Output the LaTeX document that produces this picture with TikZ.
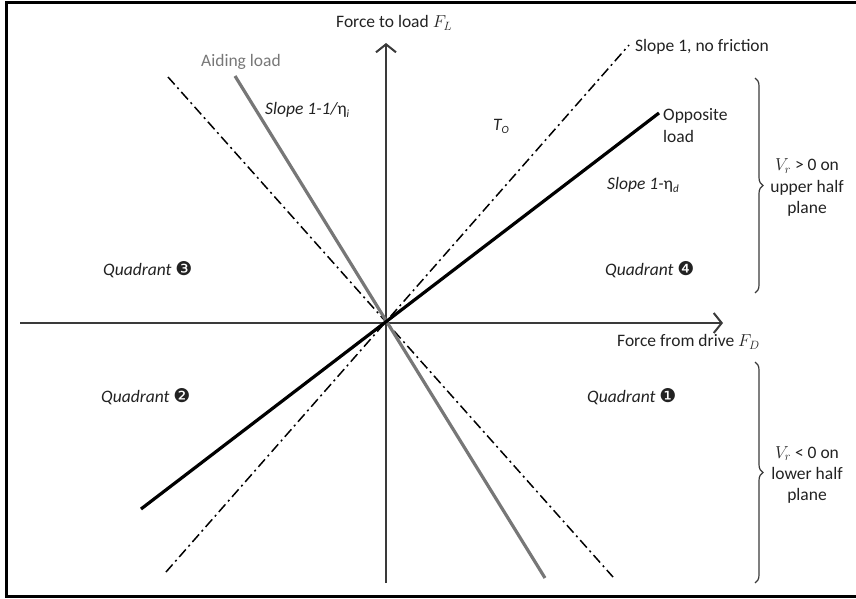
\documentclass[tikz,border=0pt]{standalone}
\usepackage{fontspec}
\setmainfont{Carlito}
\newfontfamily\dingfont{DejaVu Sans}
\usetikzlibrary{arrows.meta,decorations.pathreplacing}
\newcommand\lowsub[1]{\raisebox{-0.35ex}{\fontsize{11}{11}\selectfont #1}}
\newcommand\qnum[1]{{\upshape\dingfont\fontsize{19}{20}\selectfont #1}}
\definecolor{axisgray}{HTML}{3A3A3A}
\definecolor{aidgray}{HTML}{777777}
\definecolor{txt}{HTML}{222222}
\begin{document}
\begin{tikzpicture}[x=1pt,y=-1pt,
  every node/.style={text=txt,font=\fontsize{17.5}{20}\selectfont,inner sep=0pt},
  axisline/.style={draw=axisgray,line width=2pt,-{Straight Barb[length=8pt,width=20pt,line width=2pt]}},
  aidline/.style={draw=aidgray,line width=3.2pt},
  oppline/.style={draw=black,line width=3.2pt},
  dashdotline/.style={draw=black,line width=1.5pt,dash pattern=on 10pt off 4pt on 2pt off 4pt},
  bracepath/.style={draw=axisgray,line width=1.2pt,decorate,decoration={brace,amplitude=8pt}},
  quadlabel/.style={anchor=west,font=\fontsize{17.5}{20}\selectfont\itshape},
  sidelabel/.style={align=center,font=\fontsize{17.5}{21.5}\selectfont}
]
\useasboundingbox (0,0) rectangle (856,599);
% frame
\draw[line width=3pt,black] (870,3) -- (6,3) -- (6,596) -- (870,596);

% key points
\coordinate (O) at (386,323);
\coordinate (xs) at (20,323);
\coordinate (xe) at (723,323);
\coordinate (ys) at (386,583);
\coordinate (ye) at (386,43);
\coordinate (aidT) at (235,76);
\coordinate (aidB) at (545,578);
\coordinate (ddT) at (168,77);
\coordinate (ddB) at (613,577);
\coordinate (s1T) at (629,45);
\coordinate (s1B) at (166,572);
\coordinate (opT) at (659,113);
\coordinate (opB) at (141,509);

% lines
\draw[dashdotline] (ddT) -- (ddB);
\draw[dashdotline] (s1B) -- (s1T);
\draw[axisline] (xs) -- (xe);
\draw[axisline] (ys) -- (ye);
\draw[aidline] (aidT) -- (aidB);
\draw[oppline] (opB) -- (opT);

% braces
\draw[bracepath] (755,78) -- (755,293);
\draw[bracepath] (755,362) -- (755,583);

% labels
\node[anchor=west] (fl) at (336,23) {Force to load $F_L$};
\node[anchor=west,text=aidgray] (aid) at (201,62) {Aiding load};
\node[quadlabel] (sa) at (265,110) {Slope 1-1/{\upshape η}\lowsub{i}};
\node[quadlabel] (q3) at (103,270) {Quadrant \qnum{❸}};
\node[anchor=west] (s1) at (635,47) {Slope 1, no friction};
\node[quadlabel] (to) at (493,126) {T\lowsub{O}};
\node[anchor=west,align=left,font=\fontsize{17.5}{22}\selectfont] (opp) at (663,126) {Opposite\\load};
\node[quadlabel] (sd) at (607,185) {Slope 1-{\upshape η}\lowsub{d}};
\node[quadlabel] (q4) at (605,270) {Quadrant \qnum{❹}};
\node[sidelabel] (vp) at (807,188) {$V_r$ > 0 on\\upper half\\plane};
\node[anchor=west] (fd) at (617,342) {Force from drive $F_D$};
\node[quadlabel] (q1) at (587,397) {Quadrant \qnum{❶}};
\node[quadlabel] (q2) at (101,397) {Quadrant \qnum{❷}};
\node[sidelabel] (vn) at (807,475) {$V_r$ < 0 on\\lower half\\plane};
\end{tikzpicture}
\end{document}
